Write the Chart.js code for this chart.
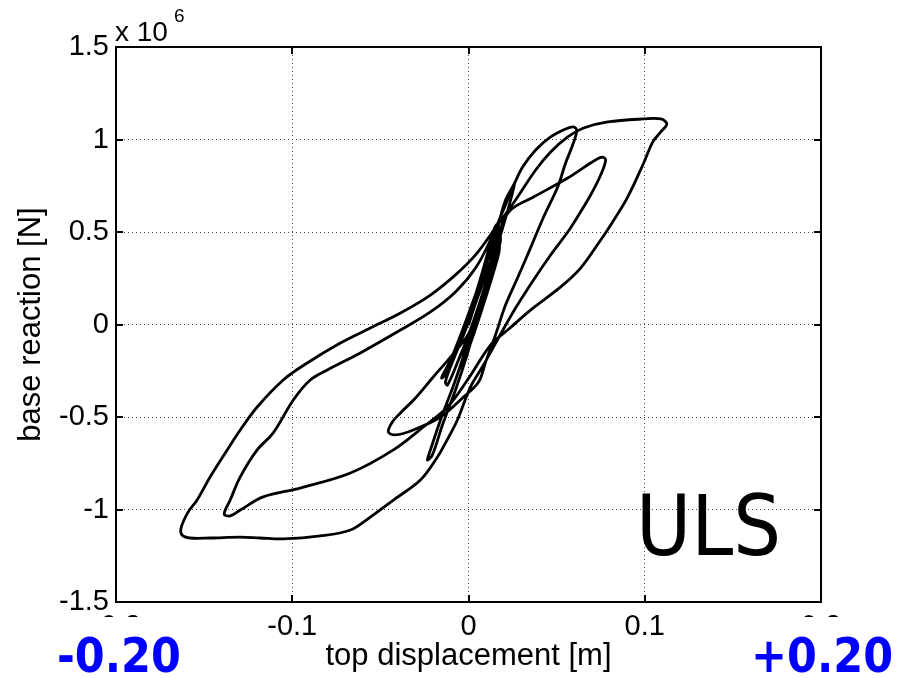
<!DOCTYPE html>
<html>
<head>
<meta charset="utf-8">
<script src="https://cdn.jsdelivr.net/npm/chart.js@4"></script>
<style>
html,body{margin:0;padding:0;background:#fff;}
#wrap{width:911px;height:678px;}
</style>
</head>
<body>
<div id="wrap"><canvas id="c" width="911" height="678"></canvas></div>
<script>
// top displacement [m]
const dispX = [
 0.000,0.0045,0.0091,0.0125,0.0142,0.0114,0.0057,-0.0011,-0.0074,-0.0125,
 -0.0091,-0.0028,0.0034,0.0102,0.0148,0.0165,0.0142,0.0080,0.0011,-0.0057,
 -0.0119,-0.0153,-0.0102,-0.0034,0.0045,0.0125,0.0170,0.0182,0.0159,0.0097,
 0.0011,-0.0074,-0.0159,-0.0216,-0.0233,-0.0205,-0.0148,-0.0074,0.0000,0.0068,
 0.0125,0.0170,0.0210,0.0256,0.0307,0.0381,0.0466,0.0551,0.0597,0.0614,
 0.0591,0.0551,0.0506,0.0426,0.0352,0.0278,0.0210,0.0153,0.0097,0.0057,
 -0.0028,-0.0159,-0.0313,-0.0415,-0.0455,-0.0432,-0.0386,-0.0301,-0.0205,-0.0102,
 0.0000,0.0080,0.0142,0.0182,0.0239,0.0369,0.0563,0.0693,0.0756,0.0778,
 0.0750,0.0693,0.0625,0.0563,0.0466,0.0369,0.0267,0.0170,0.0085,0.0011,
 -0.0063,-0.0131,-0.0176,-0.0273,-0.0426,-0.0557,-0.0670,-0.0841,-0.1051,-0.1182,
 -0.1295,-0.1466,-0.1580,-0.1625,-0.1631,-0.1591,-0.1540,-0.1466,-0.1369,-0.1295,
 -0.1199,-0.1051,-0.0915,-0.0727,-0.0557,-0.0386,-0.0216,-0.0074,0.0040,0.0153,
 0.0267,0.0381,0.0466,0.0563,0.0653,0.0790,0.0994,0.1091,0.1125,0.1091,
 0.1045,0.0994,0.0903,0.0807,0.0750,0.0636,0.0523,0.0352,0.0222,0.0125,
 -0.0006,-0.0119,-0.0256,-0.0426,-0.0670,-0.0955,-0.1165,-0.1295,-0.1352,-0.1386,
 -0.1352,-0.1295,-0.1199,-0.1108,-0.0994,-0.0898,-0.0801,-0.0614,-0.0386,-0.0216,
 -0.0074,0.0040,0.0125,0.0193,0.0250,0.0261,0.0239,0.0199,0.0142,0.0068,
 0.0000,-0.0057,-0.0119,-0.0131,-0.0091,-0.0017,0.0057,0.0125,0.0165,0.0176,
 0.0165,0.0102,0.0028,-0.0028,-0.0045,-0.0028,-0.0011
];
// base reaction [x 10^6 N]
const reactionY = [
 -0.003,0.132,0.284,0.403,0.495,0.403,0.214,0.014,-0.138,-0.257,
 -0.181,-0.030,0.132,0.338,0.522,0.543,0.457,0.268,0.068,-0.111,
 -0.257,-0.289,-0.192,-0.030,0.176,0.392,0.500,0.457,0.376,0.186,
 -0.057,-0.300,-0.516,-0.678,-0.732,-0.705,-0.543,-0.354,-0.138,0.105,
 0.338,0.538,0.673,0.754,0.851,0.943,1.014,1.057,1.068,1.046,
 0.970,0.873,0.743,0.581,0.414,0.251,0.105,-0.057,-0.203,-0.311,
 -0.392,-0.500,-0.570,-0.597,-0.581,-0.527,-0.478,-0.397,-0.289,-0.176,
 -0.051,0.132,0.359,0.522,0.619,0.689,0.792,0.873,0.905,0.889,
 0.808,0.700,0.592,0.500,0.376,0.241,0.089,-0.073,-0.219,-0.338,
 -0.516,-0.641,-0.716,-0.841,-0.949,-1.041,-1.111,-1.143,-1.159,-1.154,
 -1.149,-1.154,-1.154,-1.138,-1.100,-1.014,-0.949,-0.824,-0.678,-0.570,
 -0.446,-0.300,-0.208,-0.100,-0.019,0.062,0.159,0.268,0.376,0.522,
 0.673,0.835,0.932,1.014,1.062,1.095,1.111,1.111,1.084,1.041,
 0.986,0.873,0.689,0.538,0.457,0.305,0.203,0.078,-0.030,-0.111,
 -0.300,-0.446,-0.554,-0.678,-0.803,-0.884,-0.932,-1.003,-1.035,-1.024,
 -0.949,-0.824,-0.678,-0.586,-0.408,-0.300,-0.246,-0.154,-0.030,0.068,
 0.176,0.305,0.457,0.608,0.738,0.759,0.673,0.538,0.359,0.132,
 -0.057,-0.192,-0.327,-0.311,-0.203,-0.030,0.159,0.338,0.414,0.419,
 0.359,0.159,-0.057,-0.203,-0.235,-0.165,-0.084
];
const xTicks = [-0.2, -0.1, 0, 0.1, 0.2];
const xTickLabels = ['-0.2', '-0.1', '0', '0.1', '0.2'];
const yTicks = [-1.5, -1, -0.5, 0, 0.5, 1, 1.5];
const yTickLabels = ['-1.5', '-1', '-0.5', '0', '0.5', '1', '1.5'];
const xTitle = 'top displacement [m]';
const yTitle = 'base reaction [N]';
const exponentBase = 'x 10';
const exponentPow = '6';
const stateLabel = 'ULS';
const rangeLabels = ['-0.20', '+0.20'];

const points = dispX.map((x, i) => ({x: x, y: reactionY[i]}));
const FONT = '"Liberation Sans", Arial, Helvetica, sans-serif';

const framePlugin = {
  id: 'frame',
  afterDraw(chart) {
    const ctx = chart.ctx;
    const a = chart.chartArea;
    const xs = chart.scales.x, ys = chart.scales.y;
    ctx.save();
    ctx.strokeStyle = '#000';
    ctx.lineWidth = 2;
    ctx.strokeRect(a.left, a.top, a.right - a.left, a.bottom - a.top);
    const tl = 7;
    xTicks.forEach(v => {
      const px = Math.round(xs.getPixelForValue(v));
      ctx.beginPath();
      ctx.moveTo(px, a.bottom); ctx.lineTo(px, a.bottom - tl);
      ctx.moveTo(px, a.top); ctx.lineTo(px, a.top + tl);
      ctx.stroke();
    });
    yTicks.forEach(v => {
      const py = Math.round(ys.getPixelForValue(v));
      ctx.beginPath();
      ctx.moveTo(a.left, py); ctx.lineTo(a.left + tl, py);
      ctx.moveTo(a.right, py); ctx.lineTo(a.right - tl, py);
      ctx.stroke();
    });
    // exponent label
    ctx.fillStyle = '#000';
    ctx.textBaseline = 'alphabetic';
    ctx.textAlign = 'left';
    ctx.font = '28px ' + FONT;
    ctx.fillText(exponentBase, a.left - 1, 41);
    const w = ctx.measureText(exponentBase).width;
    ctx.font = '19px ' + FONT;
    ctx.fillText(exponentPow, a.left - 1 + w + 6, 22);
    // ULS label
    ctx.save();
    ctx.translate(636, 555);
    ctx.scale(1.02, 1.14);
    ctx.font = '74px "DejaVu Sans", Verdana, sans-serif';
    ctx.fillText(stateLabel, 0, 0);
    ctx.restore();
    // white patches over outer tick labels
    ctx.fillStyle = '#fff';
    ctx.fillRect(40, 617, 170, 61);
    ctx.fillRect(745, 617, 166, 61);
    // blue range labels
    ctx.fillStyle = '#0000ff';
    ctx.font = 'bold 43px "DejaVu Sans", Verdana, sans-serif';
    ctx.save();
    ctx.translate(57, 672);
    ctx.scale(1, 1.12);
    ctx.fillText(rangeLabels[0], 0, 0);
    ctx.restore();
    ctx.save();
    ctx.translate(751, 672);
    ctx.scale(1, 1.12);
    ctx.fillText(rangeLabels[1], 0, 0);
    ctx.restore();
    ctx.restore();
  }
};

new Chart(document.getElementById('c'), {
  type: 'scatter',
  data: {
    datasets: [{
      data: points,
      showLine: true,
      borderColor: '#000',
      borderWidth: 2.8,
      pointRadius: 0,
      tension: 0.35,
      fill: false
    }]
  },
  options: {
    responsive: false,
    animation: false,
    devicePixelRatio: 1,
    layout: { padding: { left: 0, top: 47, right: 90, bottom: 0 } },
    plugins: { legend: { display: false }, tooltip: { enabled: false } },
    scales: {
      x: {
        type: 'linear', min: -0.2, max: 0.2,
        afterBuildTicks: s => { s.ticks = xTicks.map(v => ({value: v})); },
        afterFit: s => { s.height = 76; },
        ticks: {
          color: '#000', font: { family: FONT, size: 29 }, padding: 8,
          maxRotation: 0, autoSkip: false,
          callback: (v, i) => xTickLabels[xTicks.indexOf(v)] ?? ''
        },
        grid: { color: '#444', lineWidth: 1, drawTicks: false },
        border: { display: false, dash: [1, 3] },
        title: { display: true, text: xTitle, color: '#000',
                 font: { family: FONT, size: 31 }, padding: { top: 3, bottom: 3 } }
      },
      y: {
        type: 'linear', min: -1.5, max: 1.5,
        afterBuildTicks: s => { s.ticks = yTicks.map(v => ({value: v})); },
        afterFit: s => { s.width = 116; },
        ticks: {
          color: '#000', font: { family: FONT, size: 29 }, padding: 7,
          autoSkip: false,
          callback: (v, i) => yTickLabels[yTicks.indexOf(v)] ?? ''
        },
        grid: { color: '#444', lineWidth: 1, drawTicks: false },
        border: { display: false, dash: [1, 3] },
        title: { display: true, text: yTitle, color: '#000',
                 font: { family: FONT, size: 31 }, padding: { top: 13, bottom: 13 } }
      }
    }
  },
  plugins: [framePlugin]
});
</script>
</body>
</html>
